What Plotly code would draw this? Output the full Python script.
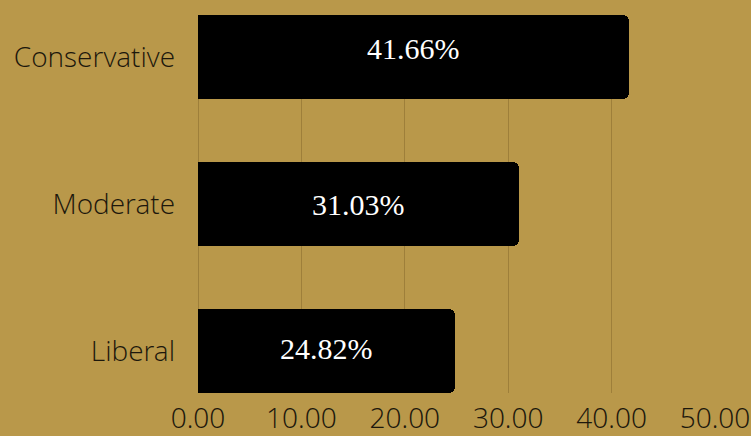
import plotly.graph_objects as go

categories = ["Liberal", "Moderate", "Conservative"]
values = [24.82, 31.03, 41.66]
labels = ["24.82%", "31.03%", "41.66%"]
tick_vals = [0, 10, 20, 30, 40, 50]

BG = "#B9984A"
GRID = "#9E7F3A"
TICK_FONT = dict(family="Open Sans Light, Open Sans", size=28, color="#1c170c", weight=300)
LABEL_FONT = dict(family="Liberation Serif, DejaVu Serif, serif", size=30, color="#FFFFFF")
label_yshift = [2, 0, 9]  # styling offsets for label placement

fig = go.Figure(
    go.Bar(
        x=values,
        y=categories,
        orientation="h",
        width=0.57,
        marker=dict(color="#000000", line=dict(width=0), cornerradius=6),
        hoverinfo="skip",
    )
)

for cat, val, lab, ys in zip(categories, values, labels, label_yshift):
    fig.add_annotation(
        x=val / 2,
        y=cat,
        xref="x",
        yref="y",
        text=lab,
        showarrow=False,
        font=LABEL_FONT,
        yshift=ys,
        xanchor="center",
        yanchor="middle",
    )

fig.update_layout(
    width=751,
    height=436,
    paper_bgcolor=BG,
    plot_bgcolor=BG,
    margin=dict(l=198, r=36, t=15, b=43, autoexpand=False),
    showlegend=False,
    bargap=0,
)

fig.update_xaxes(
    range=[0, 50],
    tickvals=tick_vals,
    tickformat=".2f",
    showgrid=True,
    gridcolor=GRID,
    gridwidth=1,
    zeroline=True,
    zerolinecolor=GRID,
    zerolinewidth=1,
    showline=False,
    ticks="",
    automargin=False,
    ticklabelstandoff=6,
    tickfont=TICK_FONT,
)

fig.update_yaxes(
    type="category",
    categoryorder="array",
    categoryarray=categories,
    range=[-0.286, 2.286],
    showgrid=False,
    zeroline=False,
    showline=False,
    ticks="",
    automargin=False,
    ticklabelstandoff=22,
    tickfont=TICK_FONT,
)

fig.write_html(
    "out.html",
    config={"displayModeBar": False},
    post_script="document.body.style.margin='0';document.body.style.background='" + BG + "';",
)
